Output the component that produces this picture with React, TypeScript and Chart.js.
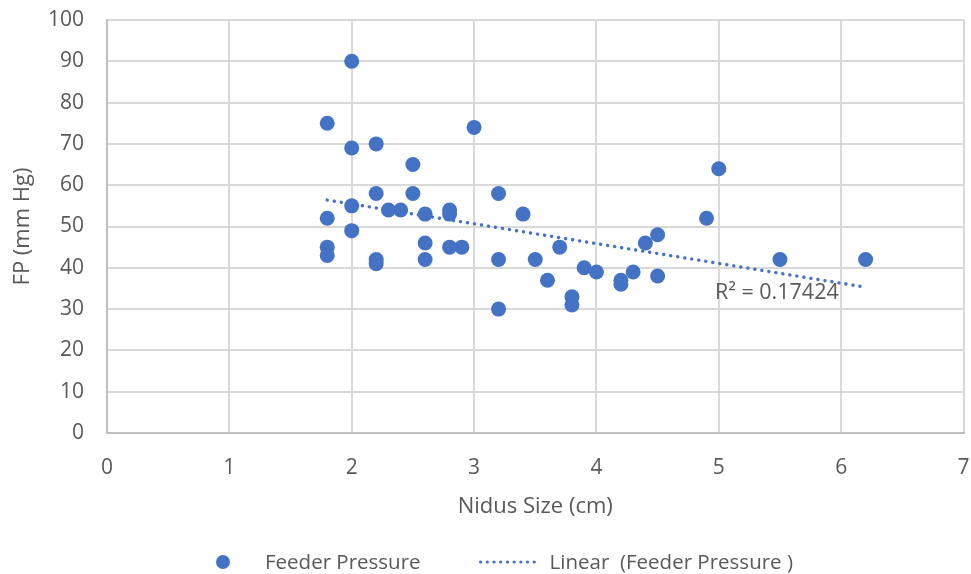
import React, { useEffect, useRef } from "react";
import { Chart, registerables } from "chart.js";

Chart.register(...registerables);

const nidusSize = [1.8, 1.8, 1.8, 1.8, 2.0, 2.0, 2.0, 2.0, 2.2, 2.2, 2.2, 2.2, 2.3, 2.4, 2.5, 2.5, 2.6, 2.6, 2.6, 2.8, 2.8, 2.8, 2.9, 3.0, 3.2, 3.2, 3.2, 3.4, 3.5, 3.6, 3.7, 3.8, 3.8, 3.9, 4.0, 4.2, 4.2, 4.3, 4.4, 4.5, 4.5, 4.9, 5.0, 5.5, 6.2];
const feederPressure = [75, 52, 45, 43, 90, 69, 55, 49, 70, 58, 42, 41, 54, 54, 65, 58, 53, 46, 42, 54, 53, 45, 45, 74, 58, 42, 30, 53, 42, 37, 45, 33, 31, 40, 39, 37, 36, 39, 46, 48, 38, 52, 64, 42, 42];
const trendX = [1.8, 6.2];
const trendY = [56.4, 35.3];
const rSquaredText = "R² = 0.17424";
const seriesLabels = ["Feeder Pressure", "Linear  (Feeder Pressure )"];

const BLUE = "#4472C4";
const TEXT = "#595959";
const FONT = "'Open Sans', sans-serif";

export default function App() {
  const ref = useRef<HTMLCanvasElement>(null);

  useEffect(() => {
    document.body.style.margin = "0";

    const rLabelPlugin = {
      id: "rLabel",
      afterDatasetsDraw(chart: any) {
        const { ctx, scales } = chart;
        const px = scales.x.getPixelForValue(4.97);
        const py = scales.y.getPixelForValue(34.0);
        ctx.save();
        ctx.font = `21.5px ${FONT}`;
        ctx.fillStyle = TEXT;
        ctx.textAlign = "left";
        ctx.textBaseline = "middle";
        ctx.fillText(rSquaredText, px, py);
        ctx.restore();
      },
    };

    const legendPlugin = {
      id: "customLegend",
      afterDraw(chart: any) {
        const { ctx } = chart;
        const ds = chart.data.datasets;
        const y = chart.height - 12;
        ctx.save();
        ctx.font = `20.5px ${FONT}`;
        ctx.textBaseline = "middle";
        ctx.textAlign = "left";
        let x = 216;
        ctx.fillStyle = ds[0].backgroundColor;
        ctx.beginPath();
        ctx.arc(x + 7, y, 7, 0, Math.PI * 2);
        ctx.fill();
        x += 49;
        ctx.fillStyle = TEXT;
        ctx.fillText(ds[0].label, x, y + 1);
        x += ctx.measureText(ds[0].label).width + 60;
        ctx.strokeStyle = ds[1].borderColor;
        ctx.lineWidth = 3.2;
        ctx.lineCap = "round";
        ctx.setLineDash([0.1, 6.6]);
        ctx.beginPath();
        ctx.moveTo(x, y);
        ctx.lineTo(x + 58, y);
        ctx.stroke();
        ctx.setLineDash([]);
        x += 69;
        ctx.fillStyle = TEXT;
        ctx.fillText(ds[1].label, x, y + 1);
        ctx.restore();
      },
    };

    const chart = new Chart(ref.current!, {
      type: "scatter",
      data: {
        datasets: [
          {
            label: seriesLabels[0],
            data: nidusSize.map((x, i) => ({ x, y: feederPressure[i] })),
            backgroundColor: BLUE,
            borderColor: BLUE,
            pointRadius: 7.5,
            pointHoverRadius: 7.5,
            borderWidth: 0,
          },
          {
            label: seriesLabels[1],
            type: "line",
            data: trendX.map((x, i) => ({ x, y: trendY[i] })),
            borderColor: BLUE,
            borderWidth: 3.4,
            borderDash: [0.1, 7],
            borderCapStyle: "round",
            pointRadius: 0,
            fill: false,
          } as any,
        ],
      },
      options: {
        animation: false,
        responsive: false,
        layout: { padding: { top: 20, right: 3, left: 10, bottom: 54 } },
        plugins: {
          tooltip: { enabled: false },
          legend: { display: false },
        },
        scales: {
          x: {
            type: "linear",
            min: 0,
            max: 7,
            afterFit: (s: any) => {
              s.height = 87;
              s.paddingLeft = 0;
              s.paddingRight = 0;
            },
            ticks: { stepSize: 1, color: TEXT, font: { family: FONT, size: 21 }, padding: 22 },
            grid: { color: "#d9d9d9", lineWidth: 2, drawTicks: false },
            border: { color: "#bfbfbf", width: 2 },
            title: {
              display: true,
              text: "Nidus Size (cm)",
              color: TEXT,
              font: { family: FONT, size: 22 },
              padding: { top: 15, bottom: 0 },
            },
          },
          y: {
            type: "linear",
            min: 0,
            max: 100,
            afterFit: (s: any) => {
              s.width = 97;
              s.paddingTop = 0;
              s.paddingBottom = 0;
            },
            ticks: { stepSize: 10, color: TEXT, font: { family: FONT, size: 21 }, padding: 23 },
            grid: { color: "#d9d9d9", lineWidth: 2, drawTicks: false },
            border: { color: "#bfbfbf", width: 2 },
            title: {
              display: true,
              text: "FP (mm Hg)",
              color: TEXT,
              font: { family: FONT, size: 22 },
              padding: { top: 0, bottom: 13 },
            },
          },
        },
      },
      plugins: [rLabelPlugin, legendPlugin],
    });
    return () => chart.destroy();
  }, []);

  return (
    <div style={{ width: 971, height: 574, background: "#fff" }}>
      <canvas ref={ref} width={971} height={574} style={{ display: "block" }} />
    </div>
  );
}
